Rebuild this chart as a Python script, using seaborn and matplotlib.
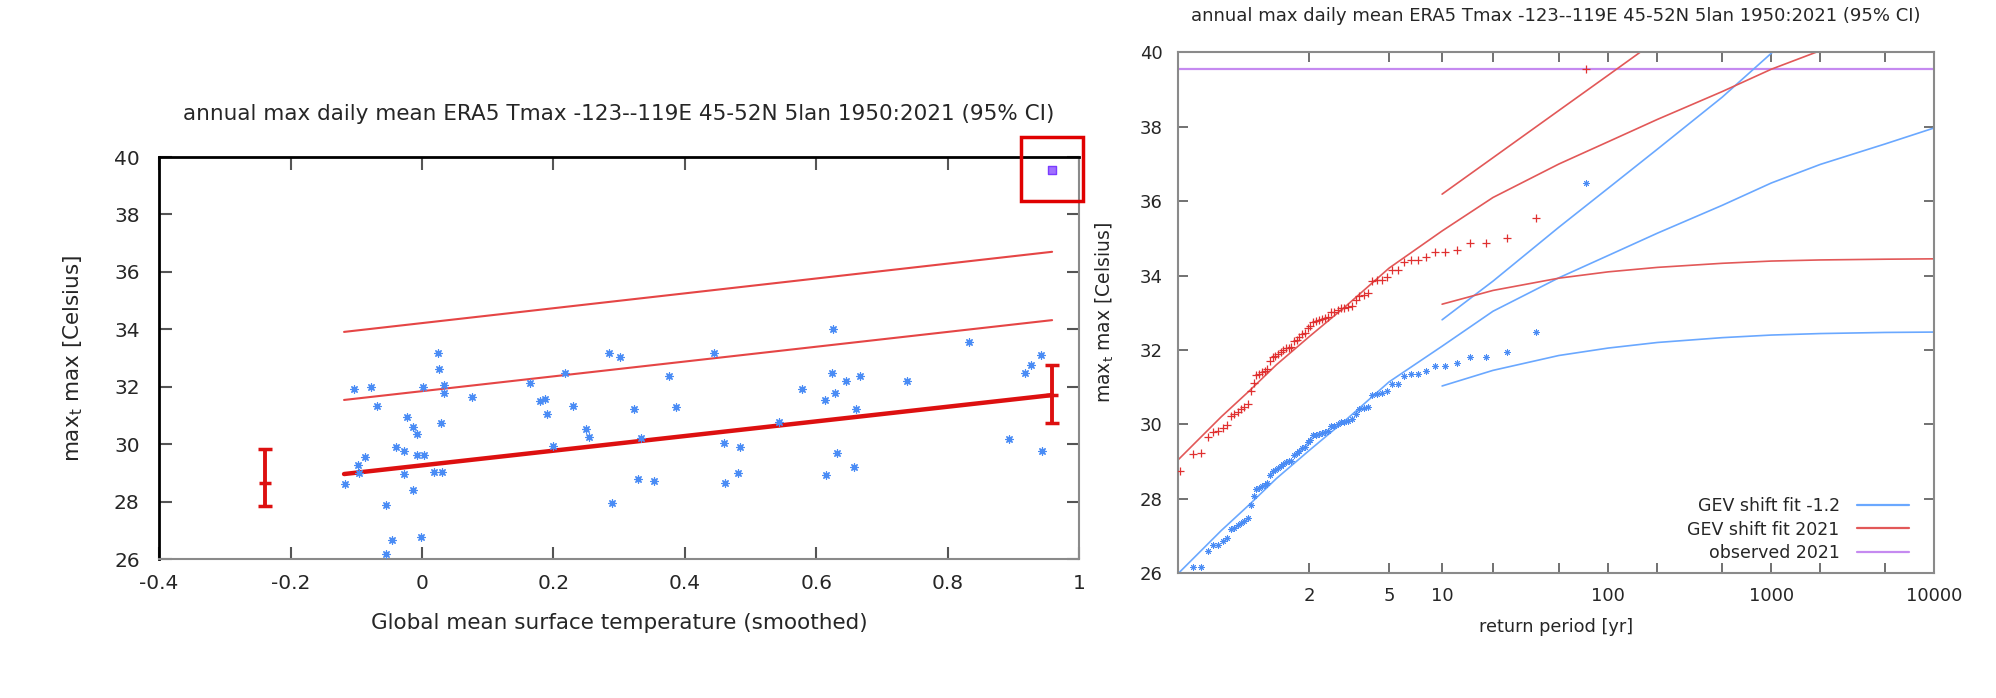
import numpy as np
import pandas as pd
import matplotlib
matplotlib.use("Agg")
import matplotlib.pyplot as plt
from matplotlib.patches import Rectangle
from matplotlib.lines import Line2D
from matplotlib.ticker import FixedLocator, FuncFormatter, NullFormatter
import seaborn as sns

title = "annual max daily mean ERA5 Tmax -123--119E 45-52N 5lan 1950:2021 (95% CI)"
ylab = r"max$_\mathrm{t}$ max [Celsius]"

# left panel: annual max vs smoothed GMST (1950-2020)
gmst = [0.024, 0.026, -0.104, -0.078, 0.001, 0.033, 0.033, 0.076, -0.069, -0.023,
        -0.014, -0.007, 0.029, -0.039, -0.027, -0.087, -0.008, 0.003, -0.097, -0.096,
        -0.027, 0.019, 0.031, -0.117, -0.013, -0.055, -0.046, -0.002, -0.055,
        0.165, 0.285, 0.302, 0.218, 0.376, 0.179, 0.188, 0.190, 0.230, 0.323,
        0.387, 0.249, 0.255, 0.200, 0.333, 0.329, 0.353, 0.290, 0.444,
        0.626, 0.624, 0.646, 0.667, 0.579, 0.628, 0.613, 0.738, 0.661, 0.543,
        0.460, 0.484, 0.631, 0.481, 0.658, 0.615, 0.461,
        0.832, 0.942, 0.927, 0.918, 0.893, 0.943]
tmax = [33.16, 32.62, 31.92, 32.00, 31.98, 32.06, 31.79, 31.63, 31.33, 30.96,
        30.60, 30.34, 30.75, 29.91, 29.77, 29.56, 29.61, 29.61, 29.26, 29.01,
        28.96, 29.03, 29.03, 28.60, 28.41, 27.89, 26.66, 26.76, 26.16,
        32.12, 33.16, 33.02, 32.47, 32.37, 31.50, 31.56, 31.05, 31.33, 31.24,
        31.30, 30.54, 30.26, 29.94, 30.21, 28.80, 28.72, 27.94, 33.19,
        34.02, 32.49, 32.21, 32.37, 31.91, 31.79, 31.54, 32.21, 31.24, 30.77,
        30.05, 29.91, 29.70, 29.01, 29.22, 28.94, 28.64,
        33.57, 33.12, 32.75, 32.49, 30.17, 29.76]
gmst_2021 = 0.959
tmax_2021 = 39.55

fit_gmst = [-0.1185, 0.959]
fit_mu = [28.96, 31.71]
fit_mid = [31.54, 34.32]
fit_top = [33.91, 36.70]

ci_gmst = [-0.239, 0.959]
ci_mid = [28.64, 31.71]
ci_low = [27.85, 30.75]
ci_high = [29.84, 32.77]

# right panel: return-level plot
shifted_2021 = [39.55, 35.55, 35.00, 34.88, 34.87, 34.70, 34.64, 34.63, 34.50, 34.42,
                34.42, 34.36, 34.15, 34.15, 33.95, 33.89, 33.88, 33.86, 33.53, 33.49,
                33.46, 33.34, 33.19, 33.16, 33.12, 33.12, 33.08, 33.01, 33.01, 32.88,
                32.86, 32.83, 32.80, 32.77, 32.76, 32.63, 32.59, 32.46, 32.42, 32.35,
                32.28, 32.23, 32.08, 32.06, 32.05, 32.00, 31.95, 31.88, 31.83, 31.81,
                31.70, 31.48, 31.43, 31.40, 31.35, 31.32, 31.12, 30.89, 30.54, 30.47,
                30.41, 30.34, 30.27, 30.23, 29.99, 29.91, 29.82, 29.80, 29.65, 29.22,
                29.21, 28.74]
shifted_past = [36.49, 32.49, 31.94, 31.82, 31.81, 31.64, 31.58, 31.57, 31.44, 31.36,
                31.36, 31.30, 31.09, 31.09, 30.89, 30.83, 30.82, 30.80, 30.47, 30.43,
                30.40, 30.28, 30.13, 30.10, 30.06, 30.06, 30.02, 29.95, 29.95, 29.82,
                29.80, 29.77, 29.74, 29.71, 29.70, 29.57, 29.53, 29.40, 29.36, 29.29,
                29.22, 29.17, 29.02, 29.00, 28.99, 28.94, 28.89, 28.82, 28.77, 28.75,
                28.64, 28.42, 28.37, 28.34, 28.29, 28.26, 28.06, 27.83, 27.48, 27.41,
                27.35, 27.28, 27.21, 27.17, 26.93, 26.85, 26.76, 26.74, 26.59, 26.16,
                26.15, 25.68]

curve_T = [1.0122, 1.1, 1.25, 1.5, 2, 3, 5, 10, 20, 50, 100, 200, 500, 1000, 2000, 5000, 10000]
fit_2021 = [29.04, 30.2, 30.9, 31.6, 32.35, 33.2, 34.2, 35.2, 36.1, 37.0, 37.6, 38.2,
            38.95, 39.55, 40.05, 40.6, 41.03]
fit_past = [25.98, 27.14, 27.84, 28.54, 29.29, 30.14, 31.14, 32.1, 33.04, 33.94, 34.54,
            35.14, 35.89, 36.49, 36.99, 37.54, 37.97]

ci_T = [10, 20, 50, 100, 200, 500, 1000, 2000, 5000, 10000]
hi_2021 = [36.19, 37.17, 38.44, 39.39, 40.34, 41.6, 42.5, 43.5, 44.7, 45.6]
lo_2021 = [33.23, 33.6, 33.93, 34.1, 34.22, 34.33, 34.39, 34.42, 34.44, 34.45]
hi_past = [32.81, 33.85, 35.3, 36.35, 37.4, 38.8, 39.98, 41.1, 42.6, 43.7]
lo_past = [31.03, 31.45, 31.85, 32.05, 32.2, 32.33, 32.4, 32.44, 32.47, 32.48]

x_ticks_left = [-0.4, -0.2, 0, 0.2, 0.4, 0.6, 0.8, 1]
y_ticks = [26, 28, 30, 32, 34, 36, 38, 40]
period_major = [2, 5, 10, 100, 1000, 10000]
period_minor = [20, 50, 200, 500, 2000, 5000]

blue = "#4a8cf5"
red = "#dd1010"
thin_red = "#e54545"
line_blue = "#6aa8ff"
line_red = "#e25858"
purple = "#c58af0"
grey = "#8a8a8a"

sns.set_theme(style="ticks")
plt.rcParams["font.family"] = ["DejaVu Sans"]

fig = plt.figure(figsize=(19.96, 6.98), dpi=100)
ax1 = fig.add_axes([0.0797, 0.1991, 0.4609, 0.5759])
ax2 = fig.add_axes([0.5902, 0.1791, 0.3788, 0.7457])

# ---- left panel
obs = pd.DataFrame({"gmst": gmst, "tmax": tmax})
sns.lineplot(x=fit_gmst, y=fit_top, ax=ax1, color=thin_red, linewidth=1.5)
sns.lineplot(x=fit_gmst, y=fit_mid, ax=ax1, color=thin_red, linewidth=1.5)
sns.lineplot(x=fit_gmst, y=fit_mu, ax=ax1, color=red, linewidth=3.2)
sns.scatterplot(data=obs, x="gmst", y="tmax", ax=ax1, marker=(8, 2, 0), s=28,
                color=blue, linewidth=0.9, legend=False, zorder=3)
sns.scatterplot(x=[gmst_2021], y=[tmax_2021], ax=ax1, marker="s", s=36,
                color="#a070ff", edgecolor="#7a3cff", linewidth=1, legend=False, zorder=3)

mid = np.array(ci_mid)
yerr = [mid - np.array(ci_low), np.array(ci_high) - mid]
ax1.errorbar(ci_gmst, ci_mid, yerr=yerr, fmt="_", color=red, ms=8, mew=2.5,
             elinewidth=2.8, capsize=5, capthick=2.8, zorder=4)

ax1.add_patch(Rectangle((0.911, 38.46), 0.095, 2.23, fill=False, edgecolor="#e00000",
                        linewidth=2.5, clip_on=False, zorder=5))

ax1.set_xlim(-0.4, 1)
ax1.set_ylim(26, 40)
ax1.set_xticks(x_ticks_left)
ax1.set_yticks(y_ticks)
ax1.xaxis.set_major_formatter(FuncFormatter(lambda v, p: f"{v:g}"))
ax1.tick_params(which="both", direction="in", top=True, right=True, length=9,
                width=1.5, color="#555555", labelsize=14.5)
ax1.tick_params(axis="x", pad=11)
ax1.tick_params(axis="y", pad=14)
ax1.set_xlabel("Global mean surface temperature (smoothed)", fontsize=15.5)
ax1.set_ylabel(ylab, fontsize=15.5)
ax1.xaxis.set_label_coords(0.5, -0.135)
ax1.yaxis.set_label_coords(-0.081, 0.5)
ax1.set_title(title, fontsize=15.5, pad=27)
for side in ["top", "left"]:
    ax1.spines[side].set_color("black")
    ax1.spines[side].set_linewidth(2)
for side in ["bottom", "right"]:
    ax1.spines[side].set_color(grey)
    ax1.spines[side].set_linewidth(1.5)

# ---- right panel
period = [73 / r for r in range(1, len(shifted_2021) + 1)]
ranked = pd.DataFrame({"period": period, "now": shifted_2021, "past": shifted_past})

ax2.axhline(tmax_2021, color=purple, linewidth=1.6)
sns.lineplot(x=curve_T, y=fit_past, ax=ax2, color=line_blue, linewidth=1.2)
sns.lineplot(x=ci_T, y=hi_past, ax=ax2, color=line_blue, linewidth=1.2)
sns.lineplot(x=ci_T, y=lo_past, ax=ax2, color=line_blue, linewidth=1.2)
sns.lineplot(x=curve_T, y=fit_2021, ax=ax2, color=line_red, linewidth=1.2)
sns.lineplot(x=ci_T, y=hi_2021, ax=ax2, color=line_red, linewidth=1.2)
sns.lineplot(x=ci_T, y=lo_2021, ax=ax2, color=line_red, linewidth=1.2)
sns.scatterplot(data=ranked, x="period", y="past", ax=ax2, marker=(8, 2, 0), s=18,
                color=blue, linewidth=0.7, legend=False, zorder=3)
sns.scatterplot(data=ranked, x="period", y="now", ax=ax2, marker="+", s=28,
                color="#e03030", linewidth=0.9, legend=False, zorder=3)


def gumbel(t):
    t = np.asarray(t, dtype=float)
    with np.errstate(divide="ignore", invalid="ignore"):
        return -np.log(-np.log(1 - 1 / t))


def gumbel_inv(g):
    g = np.asarray(g, dtype=float)
    with np.errstate(over="ignore", divide="ignore"):
        return 1 / (1 - np.exp(-np.exp(-g)))


ax2.set_xscale("function", functions=(gumbel, gumbel_inv))
ax2.set_xlim(1.01224, 10000)
ax2.set_ylim(26, 40)
ax2.xaxis.set_major_locator(FixedLocator(period_major))
ax2.xaxis.set_minor_locator(FixedLocator(period_minor))
ax2.xaxis.set_major_formatter(FuncFormatter(lambda v, p: f"{v:g}"))
ax2.xaxis.set_minor_formatter(NullFormatter())
ax2.set_yticks(y_ticks)
ax2.tick_params(which="both", direction="in", top=True, right=True, length=7,
                width=1.3, color="#666666", labelsize=13)
ax2.tick_params(axis="x", which="both", pad=10)
ax2.tick_params(axis="y", pad=11)
ax2.set_xlabel("return period [yr]", fontsize=12.8)
ax2.set_ylabel(ylab, fontsize=13.5)
ax2.xaxis.set_label_coords(0.5, -0.087)
ax2.yaxis.set_label_coords(-0.082, 0.5)
ax2.set_title(title, fontsize=13, pad=23)
for side in ax2.spines:
    ax2.spines[side].set_color(grey)
    ax2.spines[side].set_linewidth(1.5)

handles = [Line2D([], [], color=line_blue, linewidth=1.6),
           Line2D([], [], color=line_red, linewidth=1.6),
           Line2D([], [], color=purple, linewidth=1.6)]
ax2.legend(handles, ["GEV shift fit -1.2", "GEV shift fit 2021", "observed 2021"],
           loc="lower right", bbox_to_anchor=(0.967, 0.021), markerfirst=False,
           frameon=False, fontsize=12.5, handlelength=3.0, handletextpad=1.0,
           labelspacing=0.32, borderpad=0, borderaxespad=0)

fig.savefig("out.png", dpi=100)
